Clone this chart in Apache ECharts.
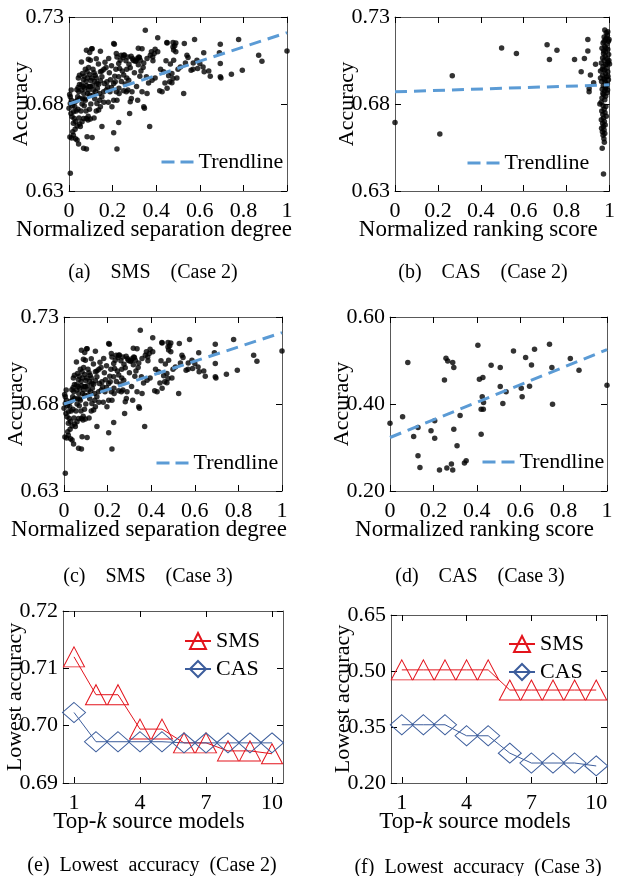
<!DOCTYPE html>
<html>
<head>
<meta charset="utf-8" />
<title>SMS / CAS accuracy</title>
<script src="https://cdn.jsdelivr.net/npm/echarts@6/dist/echarts.min.js"></script>
<style>
  body { margin: 0; background: #fff; }
  #main { width: 618px; height: 876px; }
</style>
</head>
<body>
<div id="main"></div>
<script>
// ---------------- data ----------------
// (a) / (c): [normalized separation degree, accuracy]
var sepPoints = [
  [0.000,0.6775],[0.003,0.6855],[0.006,0.6842],[0.011,0.6822],[0.006,0.6803],[0.009,0.6746],[0.014,0.6727],[0.021,0.6756],
  [0.024,0.6717],[0.004,0.6610],[0.012,0.6605],[0.020,0.6620],[0.028,0.6655],[0.017,0.6640],[0.030,0.6600],[0.037,0.6593],
  [0.044,0.6570],[0.006,0.6402],[0.029,0.6813],[0.037,0.6822],[0.040,0.6842],[0.049,0.6832],[0.045,0.6870],[0.036,0.6882],
  [0.042,0.6895],[0.048,0.6912],[0.033,0.6760],[0.041,0.6770],[0.046,0.6720],[0.037,0.6674],[0.049,0.6685],[0.052,0.6670],
  [0.016,0.6790],[0.026,0.6785],[0.030,0.6700],[0.020,0.6690],[0.043,0.6950],[0.048,0.6965],[0.057,0.7042],[0.010,0.6880],
  [0.060,0.6698],[0.067,0.6717],[0.080,0.6717],[0.087,0.6708],[0.098,0.6714],[0.067,0.6545],[0.080,0.6542],[0.083,0.6612],
  [0.106,0.6608],[0.055,0.6760],[0.060,0.6800],[0.062,0.6830],[0.070,0.6790],[0.075,0.6822],[0.068,0.6860],[0.058,0.6880],
  [0.065,0.6900],[0.072,0.6890],[0.080,0.6905],[0.090,0.6880],[0.085,0.6860],[0.095,0.6850],[0.092,0.6900],[0.078,0.6930],
  [0.066,0.6940],[0.070,0.6960],[0.085,0.6950],[0.095,0.6970],[0.100,0.6935],[0.057,0.6910],[0.080,0.7109],[0.104,0.7117],
  [0.095,0.7096],[0.089,0.7057],[0.098,0.7052],[0.075,0.7000],[0.090,0.7010],[0.083,0.6985],[0.062,0.6975],[0.100,0.6800],
  [0.094,0.6770],[0.078,0.6760],[0.088,0.6730],[0.072,0.6830],[0.098,0.6900],
  [0.106,0.7118],[0.144,0.7103],[0.110,0.7000],[0.115,0.6980],[0.120,0.6965],[0.105,0.6950],[0.125,0.6950],[0.118,0.6930],
  [0.108,0.6905],[0.128,0.6918],[0.112,0.6880],[0.122,0.6870],[0.130,0.6890],[0.136,0.6914],[0.144,0.6933],[0.151,0.6956],
  [0.144,0.6985],[0.151,0.6989],[0.159,0.6870],[0.171,0.6880],[0.151,0.6842],[0.141,0.6822],[0.128,0.6803],[0.144,0.6784],
  [0.136,0.6765],[0.118,0.6830],[0.110,0.6850],[0.125,0.6760],[0.115,0.6720],[0.151,0.6670],[0.162,0.6918],[0.174,0.6928],
  [0.182,0.7061],[0.170,0.7010],[0.160,0.7000],[0.177,0.6899],[0.190,0.6940],[0.185,0.6980],[0.195,0.7020],[0.165,0.7040],
  [0.135,0.7030],[0.125,0.7060],[0.140,0.6860],[0.188,0.6870],[0.197,0.6784],[0.180,0.6810],[0.195,0.6895],[0.160,0.6810],
  [0.205,0.7147],[0.208,0.7143],[0.217,0.7090],[0.220,0.7070],[0.235,0.7052],[0.239,0.7080],[0.251,0.7080],[0.254,0.7082],
  [0.248,0.7067],[0.261,0.7048],[0.228,0.7033],[0.232,0.7004],[0.228,0.6956],[0.251,0.6966],[0.274,0.6937],[0.205,0.6918],
  [0.212,0.6928],[0.217,0.6870],[0.229,0.6890],[0.251,0.6876],[0.263,0.6870],[0.289,0.6870],[0.286,0.6832],[0.281,0.6813],
  [0.278,0.6746],[0.205,0.6822],[0.220,0.6822],[0.228,0.6693],[0.205,0.6635],[0.220,0.6542],[0.270,0.7070],[0.281,0.7009],
  [0.275,0.7028],[0.300,0.6980],[0.265,0.7000],[0.245,0.6990],[0.215,0.7000],[0.240,0.6930],[0.258,0.6915],[0.292,0.7060],
  [0.285,0.7075],[0.295,0.7050],[0.210,0.6960],[0.265,0.6950],[0.230,0.6860],[0.270,0.6880],
  [0.304,0.7046],[0.312,0.7060],[0.318,0.7120],[0.323,0.7067],[0.307,0.7048],[0.318,0.7025],[0.320,0.7070],[0.327,0.7052],
  [0.335,0.7118],[0.343,0.7036],[0.358,0.7061],[0.350,0.7224],[0.373,0.7080],[0.384,0.7070],[0.385,0.7048],[0.391,0.7090],
  [0.381,0.6937],[0.355,0.6956],[0.358,0.6860],[0.343,0.6784],[0.346,0.6775],[0.315,0.6822],[0.340,0.7010],[0.330,0.6990],
  [0.365,0.6920],[0.310,0.6900],[0.325,0.6960],[0.378,0.7100],[0.395,0.7115],[0.370,0.6670],[0.335,0.6870],[0.395,0.6950],
  [0.407,0.7181],[0.407,0.7100],[0.449,0.7153],[0.450,0.7151],[0.477,0.7153],[0.477,0.7128],[0.490,0.7151],[0.480,0.7110],
  [0.490,0.7100],[0.485,0.7135],[0.445,0.7048],[0.434,0.6985],[0.472,0.6975],[0.457,0.6962],[0.450,0.6890],[0.427,0.6870],
  [0.416,0.6876],[0.472,0.6922],[0.462,0.6928],[0.477,0.6947],[0.480,0.7052],[0.511,0.7013],[0.529,0.7147],[0.541,0.7080],
  [0.546,0.7067],[0.534,0.7036],[0.526,0.6860],[0.500,0.7000],[0.420,0.7000],[0.465,0.7030],[0.495,0.6950],[0.440,0.6920],
  [0.560,0.6994],[0.569,0.7000],[0.570,0.7036],[0.576,0.7170],[0.587,0.7052],[0.590,0.7004],[0.600,0.7033],[0.615,0.7013],
  [0.618,0.7094],[0.620,0.6985],[0.641,0.6989],[0.648,0.6960],[0.690,0.7094],[0.694,0.7143],[0.694,0.7033],[0.694,0.6956],
  [0.697,0.6950],[0.745,0.6971],[0.778,0.7170],[0.795,0.6994],[0.870,0.7080],[0.885,0.7046],[1.000,0.7105]
];
// (b): [normalized ranking score, accuracy]
var rankPoints2 = [
  [0.000,0.6693],[0.209,0.6628],[0.267,0.6962],[0.497,0.7122],[0.566,0.7090],[0.709,0.7141],[0.720,0.7056],[0.755,0.7109],
  [0.837,0.7056],[0.868,0.6985],[0.883,0.7061],[0.899,0.7170],[0.899,0.7105],[0.911,0.6966],[0.905,0.6889],[0.905,0.6870],
  [0.935,0.7029],[0.926,0.6922],
  [0.978,0.7225],[0.985,0.7210],[0.990,0.7195],[0.975,0.7185],[0.982,0.7170],[0.995,0.7160],[0.970,0.7150],[0.988,0.7145],
  [0.978,0.7130],[0.965,0.7120],[0.992,0.7115],[0.983,0.7100],[0.972,0.7090],[0.996,0.7085],[0.980,0.7075],[0.968,0.7065],
  [0.988,0.7060],[0.975,0.7050],[0.993,0.7040],[0.962,0.7035],[0.982,0.7025],[0.970,0.7015],[1.000,0.7030],[0.987,0.7005],
  [0.976,0.6995],[0.958,0.6990],[0.992,0.6985],[0.981,0.6975],[0.968,0.6965],[0.986,0.6955],[0.974,0.6945],[0.995,0.6940],
  [0.963,0.6930],[0.980,0.6925],[0.990,0.6915],[0.971,0.6905],[0.984,0.6895],[0.966,0.6885],[0.977,0.6875],[0.989,0.6865],
  [0.973,0.6855],[0.982,0.6845],[0.965,0.6835],[0.978,0.6825],[0.955,0.6800],[0.961,0.6810],[0.970,0.6790],[0.983,0.6785],
  [0.975,0.6770],[0.964,0.6760],[0.979,0.6750],[0.969,0.6740],[0.985,0.6730],[0.972,0.6720],[0.962,0.6710],[0.976,0.6700],
  [0.968,0.6690],[0.980,0.6680],[0.971,0.6670],[0.963,0.6660],[0.975,0.6650],[0.967,0.6640],[0.978,0.6630],[0.970,0.6620],
  [0.974,0.6600],[0.976,0.6580],[0.966,0.6545],[0.972,0.6398],[0.998,0.7170],[0.992,0.7215],[0.986,0.7180],[0.973,0.7105],
  [0.997,0.7050],[0.967,0.7000],[0.993,0.6960],[0.958,0.6950],[0.987,0.6910],[0.978,0.6940],[0.969,0.6860],[0.991,0.6880],
  [0.984,0.7120],[0.975,0.7160],[0.989,0.7030],[0.981,0.6890]
];
// (d): [normalized ranking score, accuracy]
var rankPoints3 = [
  [0.000,0.356],[0.058,0.3705],[0.082,0.4952],[0.109,0.3254],[0.129,0.346],[0.129,0.281],[0.138,0.2542],[0.189,0.3384],
  [0.206,0.3613],[0.206,0.3215],[0.228,0.248],[0.251,0.4554],[0.258,0.5051],[0.266,0.499],[0.289,0.4952],[0.294,0.4837],
  [0.294,0.3422],[0.309,0.304],[0.323,0.3736],[0.262,0.2527],[0.283,0.2619],[0.289,0.248],[0.343,0.2642],[0.351,0.2695],
  [0.405,0.535],[0.412,0.457],[0.428,0.4608],[0.425,0.4164],[0.431,0.4034],[0.420,0.3881],[0.430,0.3881],[0.420,0.3307],
  [0.466,0.4891],[0.508,0.4837],[0.508,0.4401],[0.520,0.4011],[0.535,0.4279],[0.569,0.522],[0.605,0.4363],[0.609,0.4164],
  [0.625,0.5067],[0.643,0.4409],[0.652,0.4898],[0.666,0.5258],[0.735,0.5373],[0.746,0.4837],[0.749,0.3996],[0.831,0.5044],
  [0.871,0.4776],[1.000,0.4432]
];
// trendline end values at x = 0 and x = 1
var trendSep = [0.680, 0.721];
var trendRank2 = [0.687, 0.691];
var trendRank3 = [0.323, 0.525];

// (e) / (f): lowest accuracy vs. top-k source models
var topK = ['1', '2', '3', '4', '5', '6', '7', '8', '9', '10'];
var smsCase2 = [0.7120, 0.7054, 0.7054, 0.6994, 0.6994, 0.6970, 0.6970, 0.6956, 0.6956, 0.6951];
var casCase2 = [0.7023, 0.6972, 0.6972, 0.6972, 0.6972, 0.6970, 0.6970, 0.6970, 0.6970, 0.6970];
var smsCase3 = [0.503, 0.503, 0.503, 0.503, 0.503, 0.449, 0.449, 0.449, 0.449, 0.449];
var casCase3 = [0.356, 0.356, 0.356, 0.3265, 0.3265, 0.280, 0.2535, 0.2535, 0.2535, 0.2457];

var captions = ['(a)    SMS    (Case 2)', '(b)    CAS    (Case 2)', '(c)    SMS    (Case 3)',
                '(d)    CAS    (Case 3)', '(e)  Lowest  accuracy  (Case 2)', '(f)  Lowest  accuracy  (Case 3)'];

// ---------------- styling ----------------
var FONT = 'Liberation Serif';
var frameColor = '#595959';
var trendColor = '#5B9BD5';
var smsColor = '#E3141C';
var casColor = '#3C5D9C';
var fs = 22;

// grid rectangles [left, top, width, height]
var grids = [
  [69, 17, 218, 174],
  [395, 17, 218, 174],
  [64, 317, 218, 174],
  [390, 317, 217, 174],
  [63, 611, 220, 172],
  [391, 615, 216, 168]
];

function trend(v) { return [[0, v[0]], [1, v[1]]]; }

var every3 = function (i) { return i % 3 === 0; };

function xAxisFor(gi, top, name) {
  var ax = {
    gridIndex: gi,
    position: top ? 'top' : 'bottom',
    axisLine: { show: true, onZero: false, lineStyle: { color: frameColor, width: 1 } },
    axisTick: { show: true, inside: true, length: 6, lineStyle: { color: '#000' } },
    axisLabel: { show: !top, margin: 9, color: '#000', fontFamily: FONT, fontSize: fs },
    splitLine: { show: false }
  };
  if (gi < 4) {
    ax.type = 'value'; ax.min = 0; ax.max = 1; ax.interval = 0.2;
  } else {
    ax.type = 'category'; ax.data = topK; ax.boundaryGap = true;
    ax.axisTick.alignWithLabel = true;
    ax.axisTick.interval = every3;
    ax.axisLabel.interval = every3;
  }
  if (!top) {
    // the names sit a bit left of the plot centre in the original
    ax.name = name;
    ax.nameLocation = 'middle';
    ax.nameGap = 27;
    ax.nameMoveOverlap = false;
    ax.nameTextStyle = {
      color: '#000', fontFamily: FONT, fontSize: 23, padding: [0, 48, 0, 0],
      rich: { n: { fontFamily: FONT, fontSize: 23, color: '#000' },
              i: { fontFamily: FONT, fontSize: 23, color: '#000', fontStyle: 'italic' } }
    };
  }
  return ax;
}

function yAxisFor(gi, right, min, max, interval, name) {
  var ax = {
    type: 'value', gridIndex: gi,
    position: right ? 'right' : 'left',
    min: min, max: max, interval: interval,
    axisLine: { show: true, onZero: false, lineStyle: { color: frameColor, width: 1 } },
    axisTick: { show: true, inside: true, length: 6, lineStyle: { color: '#000' } },
    axisLabel: {
      show: !right, margin: 5, color: '#000', fontFamily: FONT, fontSize: fs,
      formatter: function (v) { return v.toFixed(2); }
    },
    splitLine: { show: false }
  };
  if (!right) {
    ax.name = name;
    ax.nameLocation = 'middle';
    ax.nameGap = 37;
    ax.nameMoveOverlap = false;
    ax.nameTextStyle = { color: '#000', fontFamily: FONT, fontSize: fs };
  }
  return ax;
}

var xNames = ['Normalized separation degree', 'Normalized ranking score',
              'Normalized separation degree', 'Normalized ranking score',
              '{n|Top-}{i|k}{n| source models}', '{n|Top-}{i|k}{n| source models}'];
var yRanges = [[0.63, 0.73, 0.05], [0.63, 0.73, 0.05], [0.63, 0.73, 0.05],
               [0.20, 0.60, 0.20], [0.69, 0.72, 0.01], [0.20, 0.65, 0.15]];
var yNames = ['Accuracy', 'Accuracy', 'Accuracy', 'Accuracy', 'Lowest accuracy', 'Lowest accuracy'];

var xAxes = [], yAxes = [];
for (var g = 0; g < 6; g++) {
  xAxes.push(xAxisFor(g, false, xNames[g]));
  xAxes.push(xAxisFor(g, true));
  yAxes.push(yAxisFor(g, false, yRanges[g][0], yRanges[g][1], yRanges[g][2], yNames[g]));
  yAxes.push(yAxisFor(g, true, yRanges[g][0], yRanges[g][1], yRanges[g][2]));
}

function scatter(gi, pts) {
  return {
    type: 'scatter', xAxisIndex: gi * 2, yAxisIndex: gi * 2,
    data: pts, symbolSize: 5.5, itemStyle: { color: '#000' }, z: 2, silent: true
  };
}
function trendSeries(gi, v) {
  return {
    name: 'Trendline', type: 'line', xAxisIndex: gi * 2, yAxisIndex: gi * 2,
    data: trend(v), symbol: 'none', z: 3, silent: true,
    itemStyle: { color: trendColor },
    lineStyle: { color: trendColor, width: 3, type: [12, 7] }
  };
}
function topkSeries(gi, name, vals) {
  var isSms = name === 'SMS';
  var c = isSms ? smsColor : casColor;
  return {
    name: name, type: 'line', xAxisIndex: gi * 2, yAxisIndex: gi * 2,
    data: vals, symbol: isSms ? 'triangle' : 'diamond',
    symbolSize: isSms ? [21, 20] : [23, 20],
    showAllSymbol: true,
    itemStyle: { color: 'rgba(0,0,0,0)', borderColor: c, borderWidth: 1 },
    lineStyle: { color: c, width: 1 },
    silent: true
  };
}

var legendText = { color: '#000', fontFamily: FONT, fontSize: fs };
function trendLegend(left, top) {
  return { data: ['Trendline'], left: left, top: top, itemWidth: 32, itemHeight: 14,
           itemStyle: { opacity: 0 },
           lineStyle: { color: trendColor, width: 3, type: [13, 6] },
           textStyle: legendText, selectedMode: false };
}
function kLegend(left, top) {
  return { data: ['SMS', 'CAS'], orient: 'vertical', left: left, top: top, itemGap: 6,
           itemWidth: 26, itemHeight: 20, textStyle: legendText, selectedMode: false };
}

var capPos = [[148, 258], [478, 258], [143, 562], [475, 562], [147, 851], [473, 853]];

var option = {
  backgroundColor: '#fff',
  animation: false,
  title: captions.map(function (t, i) {
    return { text: t, left: capPos[i][0], top: capPos[i][1], textAlign: 'center',
             textStyle: { color: '#000', fontFamily: FONT, fontSize: 20, fontWeight: 'normal' } };
  }),
  grid: grids.map(function (r) {
    return { left: r[0], top: r[1], width: r[2], height: r[3], containLabel: false };
  }),
  legend: [
    trendLegend(155, 146),
    trendLegend(461, 147),
    trendLegend(150, 447),
    trendLegend(476, 446),
    kLegend(179, 625),
    kLegend(503, 628)
  ],
  xAxis: xAxes,
  yAxis: yAxes,
  series: [
    scatter(0, sepPoints), trendSeries(0, trendSep),
    scatter(1, rankPoints2), trendSeries(1, trendRank2),
    scatter(2, sepPoints), trendSeries(2, trendSep),
    scatter(3, rankPoints3), trendSeries(3, trendRank3),
    topkSeries(4, 'SMS', smsCase2), topkSeries(4, 'CAS', casCase2),
    topkSeries(5, 'SMS', smsCase3), topkSeries(5, 'CAS', casCase3)
  ]
};

var myChart = echarts.init(document.getElementById('main'));
myChart.setOption(option);
</script>
</body>
</html>
